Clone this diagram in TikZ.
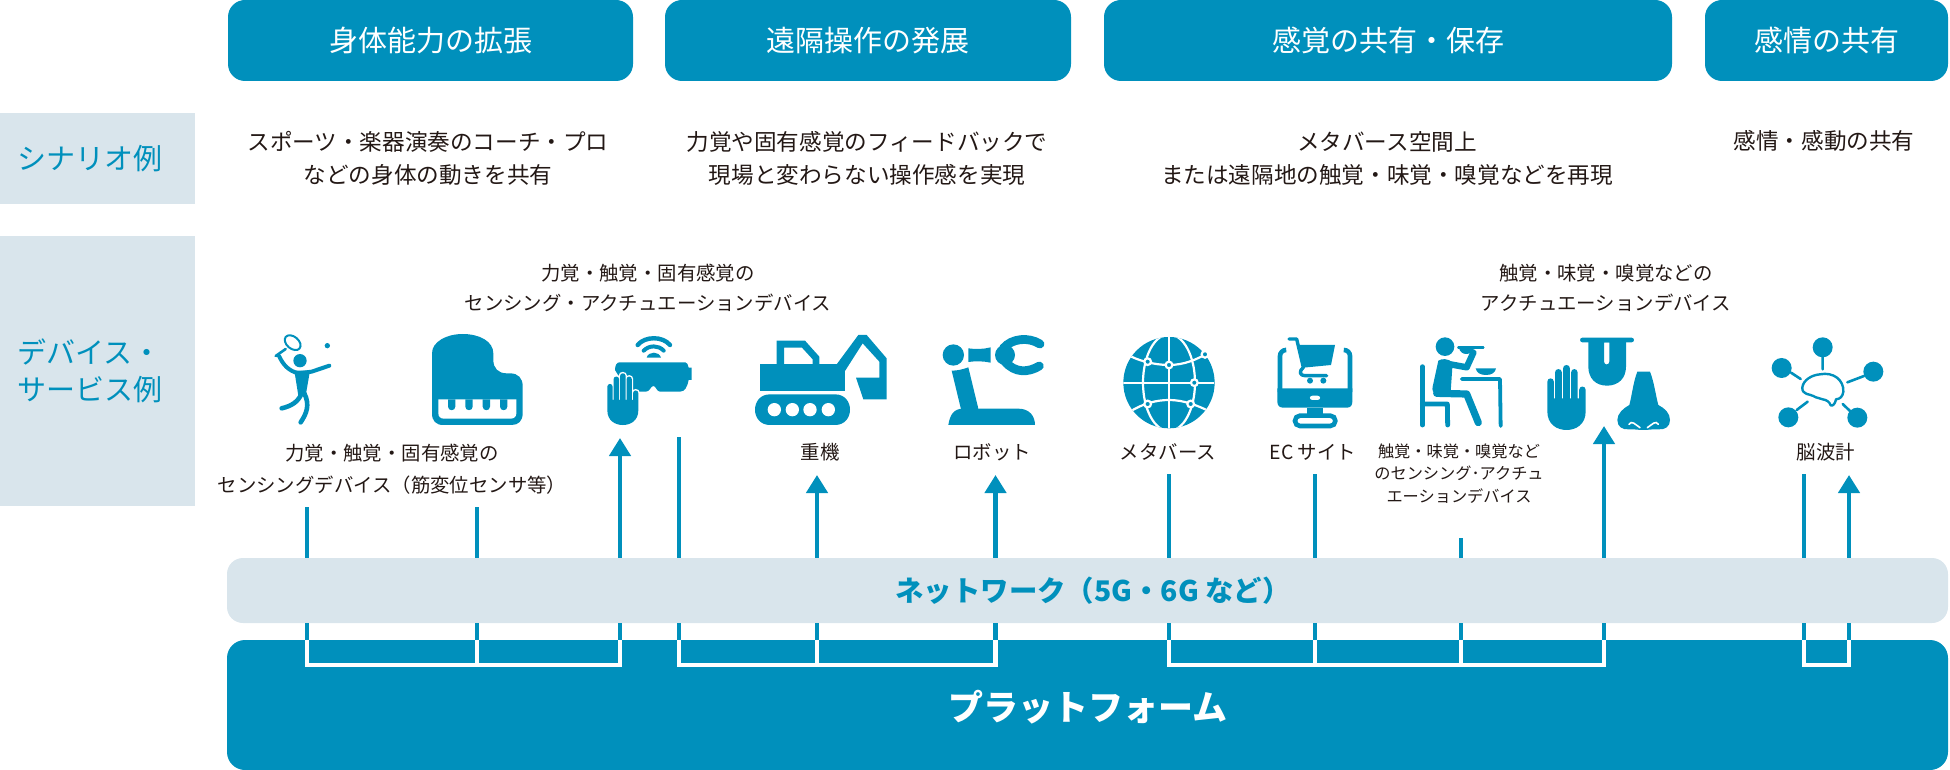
\documentclass[tikz,border=0pt]{standalone}
\usepackage{fontspec}
\setmainfont{Noto Sans CJK JP}
\usetikzlibrary{arrows.meta,calc}
\definecolor{teal}{HTML}{0090BC}
\definecolor{pale}{HTML}{D9E5EC}
\definecolor{ink}{HTML}{231815}
\newcommand{\fz}[1]{\fontsize{#1}{#1}\selectfont}
\newcommand{\handpath}[1]{\path[#1] (0,100) -- (0,45) .. controls (0,33) and (17,33) .. (17,45) -- (17,100) -- cycle
 (20,100) -- (20,20) .. controls (20,8) and (38,8) .. (38,20) -- (38,100) -- cycle
 (41,100) -- (41,9) .. controls (41,-3) and (59,-3) .. (59,9) -- (59,100) -- cycle
 (62,100) -- (62,20) .. controls (62,8) and (79,8) .. (79,20) -- (79,100) -- cycle
 (83,100) -- (83,67) .. controls (83,55) and (100,55) .. (100,67) -- (100,100) -- cycle
 (0,90) -- (100,90) -- (100,125) .. controls (100,160) and (75,175) .. (50,175) .. controls (25,175) and (0,160) .. (0,125) -- cycle;}
\tikzset{
 x=0.5pt,y=-0.5pt,
 hbox/.style={fill=teal,rounded corners=8.5pt,text=white,inner sep=0pt,minimum height=40.5pt,font=\fz{14.5}},
 sidebox/.style={fill=pale,inner sep=0pt,minimum width=97.5pt},
 sidelabel/.style={text=teal,inner sep=0pt,anchor=west,align=left,font=\fz{14.5}\linespread{1.28}\selectfont},
 scen/.style={text=ink,inner sep=0pt,align=center,font=\fz{11.3}},
 lab/.style={text=ink,inner sep=0pt,align=center,font=\fz{9.7}},
 labs/.style={text=ink,inner sep=0pt,align=center,font=\fz{8.1}},
 plainln/.style={draw=teal,line width=2.2pt},
 arrowln/.style={draw=teal,line width=2.2pt,-{Triangle[length=9pt,width=10.5pt]}},
 brk/.style={draw=white,line width=2.2pt,line join=miter},
 tk/.style={draw=teal,line cap=round,line join=round},
 zm/.style 2 args={shift={(#1,#2)},scale=1/3},
}
\begin{document}
\begin{tikzpicture}
\useasboundingbox (0,0) rectangle (1950,770);
% header boxes
\node[hbox,minimum width=202.5pt] (h1) at (430.5,40.5) {身体能力の拡張};
\node[hbox,minimum width=203pt] (h2) at (868,40.5) {遠隔操作の発展};
\node[hbox,minimum width=284pt] (h3) at (1388,40.5) {感覚の共有・保存};
\node[hbox,minimum width=121.5pt] (h4) at (1826.5,40.5) {感情の共有};
% side boxes
\node[sidebox,minimum height=45.5pt] (s1) at (97.5,158.5) {};
\node[sidebox,minimum height=135pt] (s2) at (97.5,371) {};
\node[sidelabel] (sl1) at (17,158.5) {シナリオ例};
\node[sidelabel] (sl2) at (17,371) {デバイス・\\サービス例};
% scenario text
\node[scen,font=\fz{11.3}\linespread{1.46}\selectfont] (t1) at (428,158.5) {スポーツ・楽器演奏のコーチ・プロ\\などの身体の動きを共有};
\node[scen,font=\fz{11.3}\linespread{1.46}\selectfont] (t2) at (867,158.5) {力覚や固有感覚のフィードバックで\\現場と変わらない操作感を実現};
\node[scen,font=\fz{11.3}\linespread{1.46}\selectfont] (t3) at (1387,158.5) {メタバース空間上\\または遠隔地の触覚・味覚・嗅覚などを再現};
\node[scen] (t4) at (1824,141) {感情・感動の共有};
% device labels
\node[lab,font=\fz{9.7}\linespread{1.55}\selectfont] (l1) at (648,288) {力覚・触覚・固有感覚の\\センシング・アクチュエーションデバイス};
\node[lab,font=\fz{9.7}\linespread{1.55}\selectfont] (l2) at (1606,288) {触覚・味覚・嗅覚などの\\アクチュエーションデバイス};
\node[lab,font=\fz{9.7}\linespread{1.65}\selectfont] (l3) at (392,469) {力覚・触覚・固有感覚の\\センシングデバイス（筋変位センサ等）};
\node[lab] (l4) at (820,452) {重機};
\node[lab] (l5) at (992,452) {ロボット};
\node[lab] (l6) at (1168,452) {メタバース};
\node[lab] (l7) at (1313,452) {EC サイト};
\node[labs,font=\fz{8.1}\linespread{1.39}\selectfont] (l8) at (1459,473.5) {触覚・味覚・嗅覚など\\のセンシング･アクチュ\\エーションデバイス};
\node[lab] (l9) at (1826,452) {脳波計};
% network and platform
\node[fill=pale,rounded corners=8pt,inner sep=0pt,minimum width=860.5pt,minimum height=32.5pt,font=\fz{14.2}\bfseries] (net) at (1087.5,590.5) {};
\node[text=teal,inner sep=0pt,font=\fz{14.2}\bfseries] (nett) at (1093,590.5) {ネットワーク（5G・6G など）};
\node[fill=teal,rounded corners=9pt,inner sep=0pt,minimum width=860.5pt,minimum height=65pt,font=\fz{17.5}\bfseries] (plat) at (1087.5,705) {};
\node[text=white,inner sep=0pt,font=\fz{17.5}\bfseries] (platt) at (1088,707) {プラットフォーム};
% connector ends
\coordinate (a1) at (307,507);
\coordinate (a2) at (477,507);
\coordinate (a3) at (620,438);
\coordinate (a4) at (679,437);
\coordinate (a5) at (817,475);
\coordinate (a6) at (995.5,475);
\coordinate (a7) at (1169,474);
\coordinate (a8) at (1315,474);
\coordinate (a9) at (1461,538);
\coordinate (a10) at (1604,426);
\coordinate (a11) at (1804,474);
\coordinate (a12) at (1849,475);
\foreach \n in {a1,a2,a4,a7,a8,a9,a11} \draw[plainln] (\n) -- (\n |- net.north);
\foreach \n in {a3,a5,a6,a10,a12} \draw[arrowln] (\n |- net.north) -- (\n);
\foreach \n in {a1,a2,a3,a4,a5,a6,a7,a8,a9,a10,a11,a12} \draw[plainln] (\n |- net.south) -- (\n |- plat.north);
% brackets in the platform
\coordinate (br) at (0,665);
\draw[brk] (a1 |- plat.north) -- (a1 |- br) -- (a3 |- br) -- (a3 |- plat.north);
\draw[brk] (a2 |- plat.north) -- (a2 |- br);
\draw[brk] (a4 |- plat.north) -- (a4 |- br) -- (a6 |- br) -- (a6 |- plat.north);
\draw[brk] (a5 |- plat.north) -- (a5 |- br);
\draw[brk] (a7 |- plat.north) -- (a7 |- br) -- (a10 |- br) -- (a10 |- plat.north);
\draw[brk] (a8 |- plat.north) -- (a8 |- br);
\draw[brk] (a9 |- plat.north) -- (a9 |- br);
\draw[brk] (a11 |- plat.north) -- (a11 |- br) -- (a12 |- br) -- (a12 |- plat.north);
% ---- tennis player
\begin{scope}[zm={265}{330}]
\draw[teal,line width=1pt,rotate around={-40:(83,38)}] (83,38) ellipse [x radius=27,y radius=18];
\draw[tk,line width=1.3pt] (62,57) -- (32,78);
\fill[teal] (187,47) circle (8);
\fill[teal] (105,92) circle (20);
\draw[tk,line width=2pt] (42,78) .. controls (55,105) and (70,122) .. (100,130);
\draw[tk,line width=2pt] (100,130) -- (140,125) -- (193,107);
\fill[teal] (88,122) -- (135,122) -- (122,197) -- (100,197) -- cycle;
\draw[tk,line width=2.3pt] (110,190) .. controls (100,215) and (80,228) .. (50,235);
\draw[tk,line width=2.3pt] (118,190) .. controls (135,225) and (125,250) .. (107,277);
\end{scope}
% ---- piano
\begin{scope}[zm={220}{310}]
\fill[teal] (636,130) .. controls (636,95) and (680,72) .. (728,72) .. controls (780,72) and (820,95) .. (820,130) -- (820,150) .. controls (820,175) and (835,190) .. (860,190) -- (870,190) .. controls (895,190) and (908,205) .. (908,228) -- (908,310) .. controls (908,333) and (895,345) .. (875,345) -- (670,345) .. controls (648,345) and (636,333) .. (636,310) -- cycle;
\fill[white] (655,268) -- (889,268) -- (889,310) .. controls (889,320) and (882,326) .. (872,326) -- (672,326) .. controls (662,326) and (655,320) .. (655,310) -- cycle;
\foreach \k in {695,747,799,851} \fill[teal] (\k-11,268) -- (\k-11,290) .. controls (\k-11,304) and (\k+11,304) .. (\k+11,290) -- (\k+11,268) -- cycle;
\end{scope}
% ---- goggles and hand
\begin{scope}[zm={600}{325}]
\fill[teal] (58,112) -- (256,112) .. controls (262,112) and (264,120) .. (266,128) -- (275,128) -- (275,165) -- (266,165) .. controls (262,185) and (255,200) .. (240,200) -- (180,200) .. controls (170,200) and (168,183) .. (160,183) .. controls (152,183) and (150,200) .. (138,200) -- (85,200) -- (45,135) .. controls (45,122) and (50,112) .. (58,112) -- cycle;
\draw[tk,line width=2.2pt] (113,60) .. controls (135,33) and (188,33) .. (210,60);
\draw[tk,line width=2pt] (131,77) .. controls (148,60) and (175,60) .. (191,77);
\fill[teal] (140,98) .. controls (145,78) and (178,78) .. (183,98) -- cycle;
\begin{scope}[shift={(22,145)},xscale=.93,yscale=.886]
\handpath{fill=white,draw=white,line width=1.4pt}
\handpath{fill=teal}
\end{scope}
\end{scope}
% ---- excavator
\begin{scope}[zm={720}{310}]
\fill[teal] (120,163) rectangle (375,243);
\fill[teal,even odd rule] (170,92) -- (255,92) -- (298,140) -- (298,165) -- (170,165) -- cycle (192,113) -- (246,113) -- (278,148) -- (278,163) -- (192,163) -- cycle;
\fill[teal] (150,253) -- (345,253) .. controls (405,253) and (405,345) .. (345,345) -- (150,345) .. controls (90,345) and (90,253) .. (150,253) -- cycle;
\foreach \w in {163,217,270,325} \fill[white] (\w,299) circle (20);
\fill[teal] (408,203) -- (478,203) -- (478,155) -- (428,100) -- (375,183) -- (375,163) -- (350,163) -- (415,75) -- (440,75) -- (500,145) -- (500,268) -- (430,268) -- cycle;
\end{scope}
% ---- robot
\begin{scope}[zm={720}{310}]
\fill[teal] (700,135) circle (32);
\fill[teal] (745,115) .. controls (765,118) and (790,118) .. (812,112) -- (812,158) .. controls (790,153) and (765,153) .. (745,156) -- cycle;
\fill[teal] (695,182) .. controls (712,182) and (730,178) .. (745,172) -- (775,296) -- (725,306) -- cycle;
\fill[teal] (685,345) .. controls (690,315) and (700,296) .. (730,296) -- (895,296) .. controls (930,296) and (945,320) .. (945,345) -- cycle;
\fill[teal] (855,135) circle (30);
\draw[tk,line width=4.4pt] (850,115) .. controls (875,85) and (925,80) .. (960,102);
\draw[tk,line width=4.4pt] (855,155) .. controls (885,190) and (925,188) .. (958,168);
\end{scope}
% ---- globe
\begin{scope}[zm={720}{310}]
\fill[teal] (1347,218) circle (137);
\begin{scope}
\clip (1347,218) circle (137);
\draw[white,line width=1.1pt] (1210,218) -- (1484,218) (1347,80) -- (1347,356);
\draw[white,line width=1.1pt] (1347,218) ellipse [x radius=78,y radius=145];
\draw[white,line width=1.1pt] (1225,135) .. controls (1250,150) and (1300,165) .. (1347,165) .. controls (1390,165) and (1430,150) .. (1470,125);
\draw[white,line width=1.1pt] (1230,305) .. controls (1270,280) and (1310,270) .. (1347,270) .. controls (1390,270) and (1430,285) .. (1470,305);
\end{scope}
\foreach \p/\q in {1283/155,1347/165,1455/133,1423/218,1283/282,1412/282} \draw[white,fill=teal,line width=1.1pt] (\p,\q) circle (10);
\end{scope}
% ---- monitor and cart
\begin{scope}[zm={1270}{330}]
\draw[teal,line width=2.3pt,line cap=round,rounded corners=3pt] (46,60) -- (30,60) -- (30,185);
\draw[teal,line width=2.3pt,line cap=round,rounded corners=3pt] (222,60) -- (240,60) -- (240,185);
\fill[teal] (22,175) -- (247,175) -- (247,215) .. controls (247,228) and (240,233) .. (230,233) -- (40,233) .. controls (30,233) and (22,228) .. (22,215) -- cycle;
\fill[white] (128,197) -- (142,197) .. controls (153,197) and (153,210) .. (142,210) -- (128,210) .. controls (117,210) and (117,197) .. (128,197) -- cycle;
\fill[teal] (112,233) rectangle (158,252);
\draw[teal,line width=2.3pt,rounded corners=2.5pt] (75,257) rectangle (196,288);
\draw[tk,line width=1.7pt] (57,27) -- (80,27) -- (100,112) .. controls (85,125) and (90,137) .. (105,137) -- (170,137);
\fill[teal] (83,45) -- (195,45) -- (183,105) -- (100,113) -- cycle;
\fill[teal] (120,152) circle (9);
\fill[teal] (160,152) circle (9);
\end{scope}
% ---- person eating
\begin{scope}[zm={1270}{330}]
\fill[teal] (525,50) circle (28);
\draw[tk,line width=2.4pt] (457,110) -- (457,285);
\draw[tk,line width=2.4pt] (457,222) -- (532,222) -- (533,285);
\draw[tk,line width=1.9pt] (575,147) -- (690,147) -- (692,288);
\fill[teal] (617,115) -- (678,115) .. controls (676,128) and (665,135) .. (648,135) .. controls (630,135) and (620,128) .. (617,115) -- cycle;
\draw[tk,line width=1.3pt] (565,52) -- (640,52);
\fill[teal] (567,54) .. controls (572,78) and (605,78) .. (613,54) -- cycle;
\draw[tk,line width=3.2pt] (525,100) -- (590,112) -- (610,68);
\fill[teal] (505,92) .. controls (515,85) and (535,85) .. (548,98) -- (542,185) -- (500,195) .. controls (490,190) and (485,180) .. (488,170) -- cycle;
\draw[tk,line width=3.6pt] (500,190) -- (590,192) -- (625,278);
\end{scope}
% ---- hand, tongue, nose
\begin{scope}[zm={1530}{325}]
\begin{scope}[shift={(52,120)},xscale=1.15,yscale=1.114]
\handpath{fill=teal}
\end{scope}
\fill[teal] (157,38) -- (305,38) .. controls (314,38) and (314,52) .. (305,52) -- (157,52) .. controls (148,52) and (148,38) .. (157,38) -- cycle;
\fill[teal,even odd rule] (175,50) -- (288,50) -- (288,125) .. controls (288,160) and (265,182) .. (231,182) .. controls (197,182) and (175,160) .. (175,125) -- cycle (222,52) -- (222,110) .. controls (222,121) and (238,121) .. (238,110) -- (238,52) -- cycle;
\fill[teal] (322,140) -- (360,140) .. controls (372,170) and (378,215) .. (385,240) .. controls (405,250) and (420,265) .. (420,285) .. controls (420,305) and (405,315) .. (385,313) .. controls (370,312) and (355,315) .. (340,315) .. controls (325,315) and (310,312) .. (297,313) .. controls (277,315) and (262,305) .. (262,285) .. controls (262,265) and (280,250) .. (298,240) .. controls (305,215) and (310,170) .. (322,140) -- cycle;
\draw[white,line width=.8pt,line cap=round] (297,298) .. controls (305,285) and (315,298) .. (330,308);
\draw[white,line width=.8pt,line cap=round] (385,298) .. controls (377,285) and (367,298) .. (352,308);
\end{scope}
% ---- brain network
\begin{scope}[zm={1760}{330}]
\foreach \p/\q in {188/52,65/114,340/125,85/262,292/263} \fill[teal] (\p,\q) circle (30);
\draw[tk,line width=1.3pt] (188,82) -- (188,118) (93,128) -- (122,147) (312,138) -- (262,157) (110,240) -- (143,215) (248,222) -- (270,243);
\draw[teal,line width=1.2pt,line join=round] (127,172) .. controls (130,150) and (155,135) .. (180,133) .. controls (220,125) and (252,150) .. (250,185) .. controls (248,200) and (240,207) .. (228,208) .. controls (226,220) and (218,230) .. (212,226) .. controls (208,215) and (200,210) .. (188,208) .. controls (178,203) and (170,205) .. (160,198) .. controls (150,192) and (125,195) .. (127,172) -- cycle;
\end{scope}
\end{tikzpicture}
\end{document}
